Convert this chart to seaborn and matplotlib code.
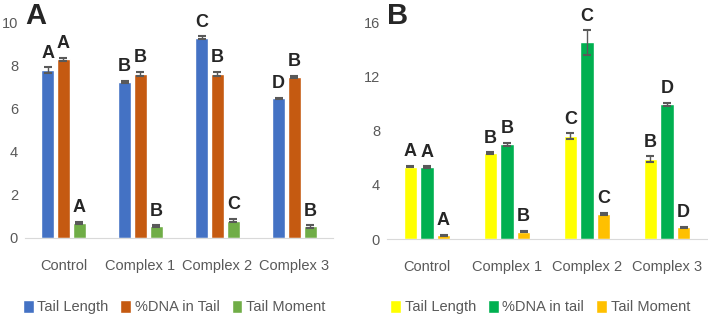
import numpy as np
import pandas as pd
import matplotlib.pyplot as plt
import seaborn as sns
from matplotlib.patches import Patch

# Grupos (eixo x)
grupos = ['Control', 'Complex 1', 'Complex 2', 'Complex 3']

# Painel A
a_series = ['Tail Length', '%DNA in Tail', 'Tail Moment']
a_tail_length = [7.81, 7.27, 9.32, 6.50]
a_dna = [8.31, 7.63, 7.63, 7.50]
a_moment = [0.71, 0.56, 0.81, 0.54]
a_err_length = [0.12, 0.05, 0.06, 0.03]
a_err_dna = [0.08, 0.09, 0.09, 0.05]
a_err_moment = [0.05, 0.04, 0.08, 0.06]
a_let_length = ['A', 'B', 'C', 'D']
a_let_dna = ['A', 'B', 'B', 'B']
a_let_moment = ['A', 'B', 'C', 'B']
a_cores = ['#4472C4', '#C55A11', '#70AD47']
a_yticks = [0, 2, 4, 6, 8, 10]

# Painel B
b_series = ['Tail Length', '%DNA in tail', 'Tail Moment']
b_tail_length = [5.36, 6.35, 7.63, 5.90]
b_dna = [5.31, 7.00, 14.54, 9.97]
b_moment = [0.27, 0.54, 1.85, 0.87]
b_err_length = [0.05, 0.05, 0.20, 0.21]
b_err_dna = [0.08, 0.10, 0.90, 0.10]
b_err_moment = [0.05, 0.05, 0.07, 0.05]
b_let_length = ['A', 'B', 'C', 'B']
b_let_dna = ['A', 'B', 'C', 'D']
b_let_moment = ['A', 'B', 'C', 'D']
b_cores = ['#FFFF00', '#00B050', '#FFC000']
b_yticks = [0, 4, 8, 12, 16]

sns.set_style('white')
plt.rcParams['font.family'] = ['Liberation Sans', 'DejaVu Sans']

fig = plt.figure(figsize=(7.08, 3.18), dpi=100)
ax_a = fig.add_axes([0.0353, 0.2516, 0.4350, 0.6761])
ax_b = fig.add_axes([0.5466, 0.2484, 0.4520, 0.6802])


def painel(ax, series, valores, erros, letras, cores, yticks, rotulo, legx):
    linhas = []
    for s, v in zip(series, valores):
        for g, y in zip(grupos, v):
            linhas.append({'grupo': g, 'serie': s, 'valor': y})
    df = pd.DataFrame(linhas)
    sns.barplot(data=df, x='grupo', y='valor', hue='serie', order=grupos,
                hue_order=series, palette=cores, width=0.62, gap=0.2,
                errorbar=None, legend=False, ax=ax, saturation=1)
    for cont, e, l in zip(ax.containers, erros, letras):
        for barra, ee, ll in zip(cont.patches, e, l):
            xc = barra.get_x() + barra.get_width() / 2
            h = barra.get_height()
            ax.errorbar(xc, h, yerr=ee, color='#595959', capsize=3,
                        elinewidth=1, capthick=1.5)
            ax.annotate(ll, (xc, h + ee), xytext=(0, 4), textcoords='offset points',
                        ha='center', va='bottom', fontsize=13, fontweight='bold')
    ax.set_ylim(yticks[0], yticks[-1])
    ax.set_xlim(-0.5, 3.5)
    ax.set_yticks(yticks)
    ax.set_xlabel('')
    ax.set_ylabel('')
    sns.despine(ax=ax, left=True)
    ax.spines['bottom'].set_color('#D9D9D9')
    ax.tick_params(axis='x', length=0, pad=15, labelsize=10.5, labelcolor='#595959')
    ax.tick_params(axis='y', length=0, pad=5, labelsize=10.5, labelcolor='#595959')
    handles = [Patch(facecolor=c, label=s) for s, c in zip(series, cores)]
    fig.legend(handles=handles, loc='center', bbox_to_anchor=(legx, 0.035),
               ncol=3, frameon=False, fontsize=10.5, handlelength=0.75,
               handleheight=1.0, handletextpad=0.25, columnspacing=0.8,
               labelcolor='#595959')
    bb = ax.get_position()
    fig.text(bb.x0 - 0.0, 0.925, rotulo, fontsize=21, fontweight='bold',
             va='baseline')


painel(ax_a, a_series, [a_tail_length, a_dna, a_moment],
       [a_err_length, a_err_dna, a_err_moment],
       [a_let_length, a_let_dna, a_let_moment], a_cores, a_yticks, 'A', 0.246)
painel(ax_b, b_series, [b_tail_length, b_dna, b_moment],
       [b_err_length, b_err_dna, b_err_moment],
       [b_let_length, b_let_dna, b_let_moment], b_cores, b_yticks, 'B', 0.763)

fig.savefig('out.png', dpi=100)
